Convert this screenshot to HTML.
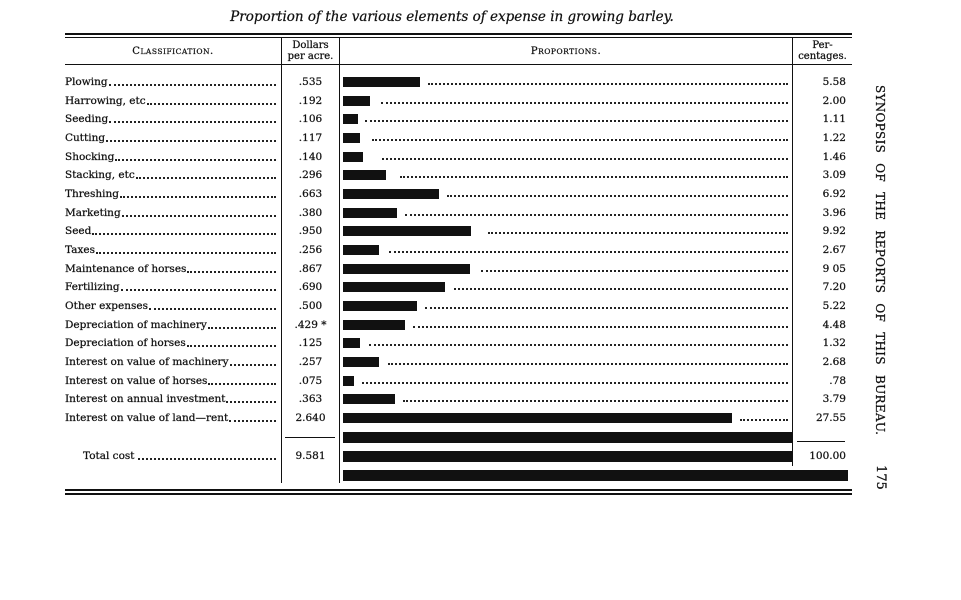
<!DOCTYPE html>
<html><head><meta charset="utf-8"><style>
body{margin:0;width:961px;height:600px;background:#fff;position:relative;overflow:hidden;font-family:"DejaVu Serif","Liberation Serif",serif;color:#111;-webkit-text-stroke:0.25px #111}
.a{position:absolute}
.t{position:absolute;font-size:10.5px;line-height:14px;white-space:nowrap}
.lab{left:65px;width:213px;display:flex}
.lab span{flex:none}
.lab i{flex:1;border-bottom:2px dotted #222;margin:0 2px 3px 1px}
.d{left:282px;width:57px;text-align:center}
.p{left:800px;width:46px;text-align:right}
.bar{position:absolute;left:343px;height:10px;background:#111}
.ld{position:absolute;height:0;border-bottom:2px dotted #222;right:173px}
.h{position:absolute;background:#111}
</style></head><body>
<div class="a" style="left:0;width:904px;top:9px;text-align:center;font-style:italic;font-size:13.5px;font-family:'DejaVu Serif',serif">Proportion of the various elements of expense in growing barley.</div>
<div class="h" style="left:65px;width:787px;top:33px;height:1.5px"></div>
<div class="h" style="left:65px;width:787px;top:36.5px;height:1.5px"></div>
<div class="h" style="left:65px;width:787px;top:64px;height:1px"></div>
<div class="h" style="left:281px;width:1px;top:38px;height:445px"></div>
<div class="h" style="left:339px;width:1px;top:38px;height:445px"></div>
<div class="h" style="left:792px;width:1px;top:38px;height:428px"></div>
<div class="h" style="left:65px;width:787px;top:489px;height:1.5px"></div>
<div class="h" style="left:65px;width:787px;top:493px;height:1.5px"></div>
<div class="t" style="left:65px;width:216px;top:45px;text-align:center;font-size:10px;letter-spacing:0.5px">C<span style="font-size:7.5px">LASSIFICATION</span>.</div>
<div class="t" style="left:282px;width:57px;top:40px;text-align:center;line-height:11px;font-size:10px">Dollars<br>per acre.</div>
<div class="t" style="left:340px;width:452px;top:45px;text-align:center;font-size:10px;letter-spacing:0.5px">P<span style="font-size:7.5px">ROPORTIONS</span>.</div>
<div class="t" style="left:793px;width:59px;top:40px;text-align:center;line-height:11px;font-size:10px">Per-<br>centages.</div>

<div class="t lab" style="top:75px"><span>Plowing</span><i></i></div><div class="t d" style="top:75px">.535</div><div class="bar" style="top:77px;width:77px"></div><div class="ld" style="top:83px;left:428px"></div><div class="t p" style="top:75px">5.58</div>
<div class="t lab" style="top:94px"><span>Harrowing, etc</span><i></i></div><div class="t d" style="top:94px">.192</div><div class="bar" style="top:96px;width:27px"></div><div class="ld" style="top:102px;left:381px"></div><div class="t p" style="top:94px">2.00</div>
<div class="t lab" style="top:112px"><span>Seeding</span><i></i></div><div class="t d" style="top:112px">.106</div><div class="bar" style="top:114px;width:15px"></div><div class="ld" style="top:120px;left:365px"></div><div class="t p" style="top:112px">1.11</div>
<div class="t lab" style="top:131px"><span>Cutting</span><i></i></div><div class="t d" style="top:131px">.117</div><div class="bar" style="top:133px;width:17px"></div><div class="ld" style="top:139px;left:372px"></div><div class="t p" style="top:131px">1.22</div>
<div class="t lab" style="top:150px"><span>Shocking</span><i></i></div><div class="t d" style="top:150px">.140</div><div class="bar" style="top:152px;width:20px"></div><div class="ld" style="top:158px;left:382px"></div><div class="t p" style="top:150px">1.46</div>
<div class="t lab" style="top:168px"><span>Stacking, etc</span><i></i></div><div class="t d" style="top:168px">.296</div><div class="bar" style="top:170px;width:43px"></div><div class="ld" style="top:176px;left:400px"></div><div class="t p" style="top:168px">3.09</div>
<div class="t lab" style="top:187px"><span>Threshing</span><i></i></div><div class="t d" style="top:187px">.663</div><div class="bar" style="top:189px;width:96px"></div><div class="ld" style="top:195px;left:447px"></div><div class="t p" style="top:187px">6.92</div>
<div class="t lab" style="top:206px"><span>Marketing</span><i></i></div><div class="t d" style="top:206px">.380</div><div class="bar" style="top:208px;width:54px"></div><div class="ld" style="top:214px;left:405px"></div><div class="t p" style="top:206px">3.96</div>
<div class="t lab" style="top:224px"><span>Seed</span><i></i></div><div class="t d" style="top:224px">.950</div><div class="bar" style="top:226px;width:128px"></div><div class="ld" style="top:232px;left:488px"></div><div class="t p" style="top:224px">9.92</div>
<div class="t lab" style="top:243px"><span>Taxes</span><i></i></div><div class="t d" style="top:243px">.256</div><div class="bar" style="top:245px;width:36px"></div><div class="ld" style="top:251px;left:389px"></div><div class="t p" style="top:243px">2.67</div>
<div class="t lab" style="top:262px"><span>Maintenance of horses</span><i></i></div><div class="t d" style="top:262px">.867</div><div class="bar" style="top:264px;width:127px"></div><div class="ld" style="top:270px;left:481px"></div><div class="t p" style="top:262px">9 05</div>
<div class="t lab" style="top:280px"><span>Fertilizing</span><i></i></div><div class="t d" style="top:280px">.690</div><div class="bar" style="top:282px;width:102px"></div><div class="ld" style="top:288px;left:454px"></div><div class="t p" style="top:280px">7.20</div>
<div class="t lab" style="top:299px"><span>Other expenses</span><i></i></div><div class="t d" style="top:299px">.500</div><div class="bar" style="top:301px;width:74px"></div><div class="ld" style="top:307px;left:425px"></div><div class="t p" style="top:299px">5.22</div>
<div class="t lab" style="top:318px"><span>Depreciation of machinery</span><i></i></div><div class="t d" style="top:318px">.429 *</div><div class="bar" style="top:320px;width:62px"></div><div class="ld" style="top:326px;left:413px"></div><div class="t p" style="top:318px">4.48</div>
<div class="t lab" style="top:336px"><span>Depreciation of horses</span><i></i></div><div class="t d" style="top:336px">.125</div><div class="bar" style="top:338px;width:17px"></div><div class="ld" style="top:344px;left:369px"></div><div class="t p" style="top:336px">1.32</div>
<div class="t lab" style="top:355px"><span>Interest on value of machinery</span><i></i></div><div class="t d" style="top:355px">.257</div><div class="bar" style="top:357px;width:36px"></div><div class="ld" style="top:363px;left:388px"></div><div class="t p" style="top:355px">2.68</div>
<div class="t lab" style="top:374px"><span>Interest on value of horses</span><i></i></div><div class="t d" style="top:374px">.075</div><div class="bar" style="top:376px;width:11px"></div><div class="ld" style="top:382px;left:362px"></div><div class="t p" style="top:374px">.78</div>
<div class="t lab" style="top:392px"><span>Interest on annual investment</span><i></i></div><div class="t d" style="top:392px">.363</div><div class="bar" style="top:394px;width:52px"></div><div class="ld" style="top:400px;left:403px"></div><div class="t p" style="top:392px">3.79</div>
<div class="t lab" style="top:411px"><span>Interest on value of land—rent</span><i></i></div><div class="t d" style="top:411px">2.640</div><div class="bar" style="top:413px;width:389px"></div><div class="ld" style="top:419px;left:740px"></div><div class="t p" style="top:411px">27.55</div>

<div class="h" style="left:285px;width:50px;top:437px;height:1px"></div>
<div class="h" style="left:797px;width:48px;top:441px;height:1px"></div>
<div class="bar" style="top:432px;width:449px;height:11px"></div>
<div class="bar" style="top:451px;width:449px;height:11px"></div>
<div class="bar" style="top:470px;width:505px;height:11px"></div>
<div class="t" style="left:83px;width:195px;top:449px;display:flex"><span>Total cost</span><i style="flex:1;border-bottom:2px dotted #222;margin:0 2px 3px 3px"></i></div>
<div class="t d" style="top:449px">9.581</div>
<div class="t p" style="top:449px">100.00</div>

<div class="a" style="left:887px;top:85px;transform-origin:0 0;transform:rotate(90deg);font-size:12px;line-height:14px;white-space:nowrap;letter-spacing:0.3px;word-spacing:6px">SYNOPSIS OF THE REPORTS OF THIS BUREAU.</div>
<div class="a" style="left:887px;top:465px;transform-origin:0 0;transform:rotate(90deg);font-size:13px;line-height:14px;white-space:nowrap">175</div>
</body></html>
